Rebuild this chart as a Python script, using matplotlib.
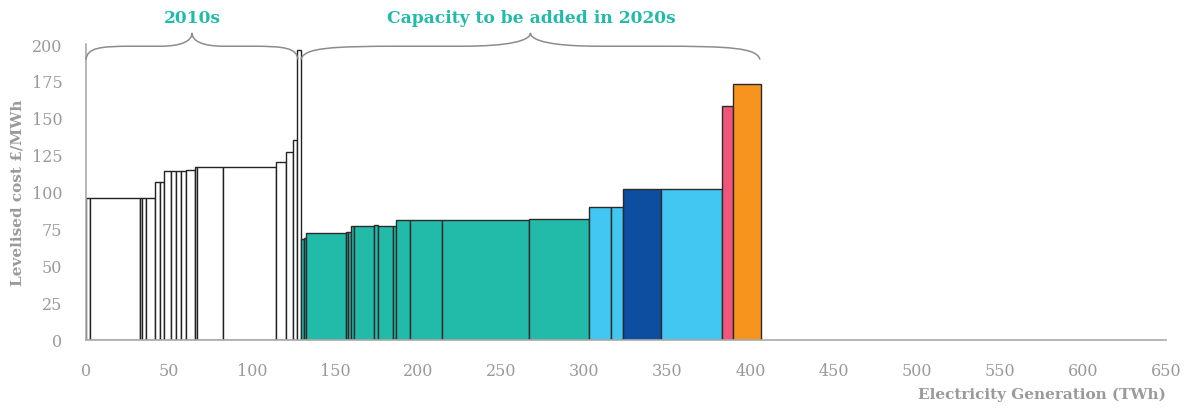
import numpy as np
import matplotlib.pyplot as plt
from matplotlib.path import Path
import matplotlib.patches as mpl_patches

# bar widths (TWh) and levelised cost (GBP/MWh), in merit order
aWidth_2010s = [2.4, 30.1, 1.4, 2.0, 5.6, 3.0, 2.5, 4.2, 3.2, 3.0, 3.0, 5.2,
                1.4, 15.6, 31.7, 6.1, 4.0, 2.8, 2.2]
aCost_2010s = [96, 96, 96, 96, 96, 107, 107, 114, 114, 114, 114, 115,
               117, 117, 117, 120, 127, 135, 196]

aWidth_2020s = [1.9, 1.4, 23.7, 1.4, 1.8, 1.4, 12.6, 2.0, 9.0, 2.2, 8.0, 19.3,
                52.7, 35.9, 13.1, 7.2, 23.2, 36.7, 6.5, 16.7]
aCost_2020s = [68, 69, 72, 73, 73, 77, 77, 78, 77, 77, 81, 81,
               81, 82, 90, 90, 102, 102, 158, 173]
aType_2020s = ['wind', 'wind', 'wind', 'wind', 'wind', 'wind', 'wind', 'wind',
               'wind', 'wind', 'wind', 'wind', 'wind', 'wind',
               'solar', 'solar', 'nuclear', 'solar', 'gas', 'other']

dColor = {'wind': '#22bbaa', 'solar': '#41c7f2', 'nuclear': '#0d4ea0',
          'gas': '#ef5679', 'other': '#f7941e'}

aTick_x = np.arange(0, 651, 50)
aTick_y = np.arange(0, 201, 25)

sGray = '#9a9a9a'
sTeal = '#22bbaa'
sFont = 'DejaVu Serif'

fig = plt.figure(figsize=(11.87, 4.10), dpi=100)
ax = fig.add_axes([86 / 1187, 1 - 341 / 410, 1080 / 1187, 296 / 410])

aLeft_2010s = np.concatenate([[0], np.cumsum(aWidth_2010s)[:-1]])
dStart = np.sum(aWidth_2010s)
aLeft_2020s = dStart + np.concatenate([[0], np.cumsum(aWidth_2020s)[:-1]])

ax.bar(aLeft_2010s, aCost_2010s, width=aWidth_2010s, align='edge',
       color='white', edgecolor='#222222', linewidth=1.0, zorder=2)
ax.bar(aLeft_2020s, aCost_2020s, width=aWidth_2020s, align='edge',
       color=[dColor[s] for s in aType_2020s], edgecolor='#2a2a2a',
       linewidth=1.0, zorder=2)

ax.set_xlim(0, 650)
ax.set_ylim(0, 200)
ax.set_xticks(aTick_x)
ax.set_yticks(aTick_y)
ax.tick_params(length=0, colors=sGray, labelsize=11.5)
ax.tick_params(axis='x', pad=16)
ax.tick_params(axis='y', pad=17)
for lab in ax.get_xticklabels() + ax.get_yticklabels():
    lab.set_family(sFont)

for s in ['top', 'right']:
    ax.spines[s].set_visible(False)
for s in ['left', 'bottom']:
    ax.spines[s].set_color('#aaaaaa')
    ax.spines[s].set_linewidth(1.2)

ax.set_xlabel('Electricity Generation (TWh)', family=sFont, fontsize=11,
              fontweight='bold', color=sGray, loc='right', labelpad=5)
ax.set_ylabel('Levelised cost £/MWh', family=sFont, fontsize=11,
              fontweight='bold', color=sGray, labelpad=5)


def draw_brace(x0, x1, y0, y1, y2):
    # curly brace from x0 to x1, ends at y0, flat part at y1, tip at y2
    xm = 0.5 * (x0 + x1)
    q = 0.22 * (x1 - x0)
    t = 0.06 * (x1 - x0)
    verts = [(x0, y0),
             (x0 + 0.1 * t, y1 - 1), (x0 + 0.3 * q, y1), (x0 + q, y1),
             (xm - t * 2.5, y1),
             (xm - 0.8 * t, y1), (xm, y1 + 0.4 * (y2 - y1)), (xm, y2),
             (xm, y1 + 0.4 * (y2 - y1)), (xm + 0.8 * t, y1), (xm + t * 2.5, y1),
             (x1 - q, y1),
             (x1 - 0.3 * q, y1), (x1 - 0.1 * t, y1 - 1), (x1, y0)]
    codes = [Path.MOVETO,
             Path.CURVE4, Path.CURVE4, Path.CURVE4,
             Path.LINETO,
             Path.CURVE4, Path.CURVE4, Path.CURVE4,
             Path.CURVE4, Path.CURVE4, Path.CURVE4,
             Path.LINETO,
             Path.CURVE4, Path.CURVE4, Path.CURVE4]
    patch = mpl_patches.PathPatch(Path(verts, codes), fill=False,
                                  edgecolor='#8c8c8c', linewidth=1.1,
                                  clip_on=False, zorder=3)
    ax.add_patch(patch)
    return xm


xm1 = draw_brace(0, 127.6, 189.5, 198.5, 207.5)
xm2 = draw_brace(129.4, 405.6, 189.5, 198.5, 207.5)
ax.text(xm1, 218, '2010s', ha='center', va='center', family=sFont,
        fontsize=12.3, fontweight='bold', color=sTeal, clip_on=False)
ax.text(xm2 + 0.5, 218, 'Capacity to be added in 2020s', ha='center',
        va='center', family=sFont, fontsize=12.3, fontweight='bold',
        color=sTeal, clip_on=False)

plt.savefig('out.png', dpi=100)
plt.close('all')
